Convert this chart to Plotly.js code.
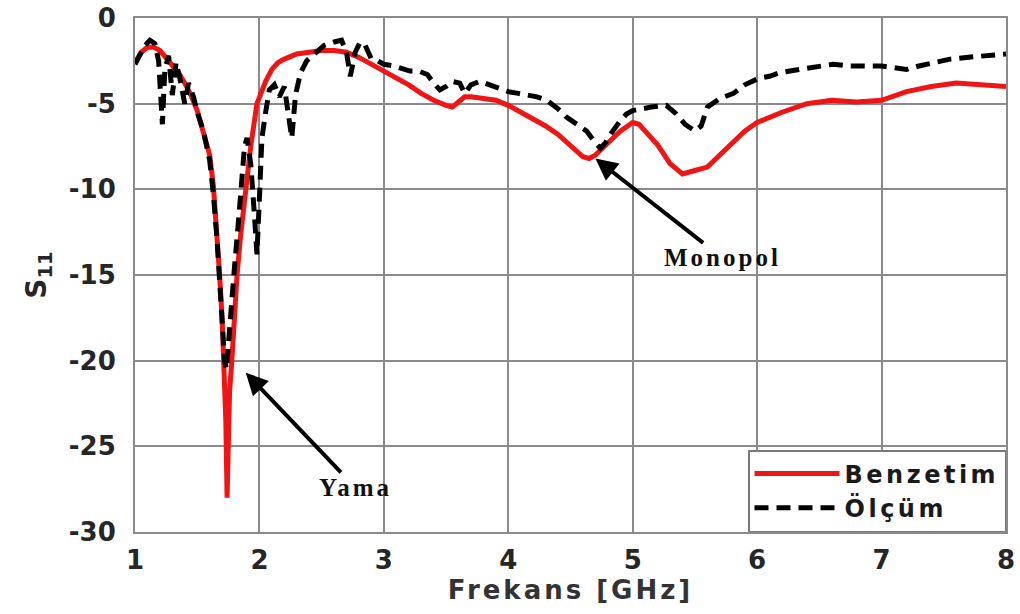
<!DOCTYPE html>
<html>
<head>
<meta charset="utf-8">
<script src="https://cdn.plot.ly/plotly-3.0.1.min.js"></script>
<style>
html,body{margin:0;padding:0;background:#fff;}
.legendtext{letter-spacing:3.5px;}
.xtitle{letter-spacing:3px;}
.annotation-text{letter-spacing:3px;}
</style>
</head>
<body>
<div id="chart" style="width:1020px;height:614px;"></div>
<script>
// ---- Data ----
const simFreq = [1.00,1.05,1.10,1.15,1.20,1.25,1.30,1.35,1.40,1.45,1.50,1.55,1.60,1.63,1.66,1.68,1.70,1.72,1.73,1.74,1.75,1.76,1.78,1.80,1.82,1.85,1.89,1.93,1.98,2.05,2.10,2.15,2.20,2.30,2.40,2.50,2.60,2.70,2.80,2.90,3.00,3.10,3.20,3.30,3.40,3.50,3.55,3.60,3.65,3.70,3.80,3.90,4.00,4.10,4.20,4.30,4.40,4.50,4.60,4.65,4.70,4.80,4.90,5.00,5.05,5.10,5.20,5.30,5.40,5.50,5.60,5.70,5.80,5.90,6.00,6.10,6.20,6.40,6.60,6.80,7.00,7.20,7.40,7.60,7.80,8.00];
const simS11 = [-2.6,-2.0,-1.7,-1.7,-1.9,-2.3,-2.7,-3.2,-3.8,-4.5,-5.4,-6.6,-8.0,-9.8,-12.5,-15.0,-17.5,-20.5,-23.5,-28.0,-24.0,-21.8,-19.8,-17.3,-15.0,-12.6,-10.0,-7.5,-5.0,-3.7,-3.0,-2.6,-2.4,-2.1,-2.0,-1.9,-1.9,-2.0,-2.3,-2.7,-3.1,-3.5,-3.9,-4.4,-4.8,-5.1,-5.2,-4.9,-4.6,-4.6,-4.7,-4.8,-5.1,-5.5,-5.9,-6.3,-6.8,-7.5,-8.1,-8.2,-8.0,-7.3,-6.6,-6.1,-6.2,-6.6,-7.4,-8.5,-9.1,-8.9,-8.7,-8.0,-7.3,-6.6,-6.1,-5.8,-5.5,-5.0,-4.8,-4.9,-4.8,-4.3,-4.0,-3.8,-3.9,-4.0];

const measFreq = [1.00,1.04,1.08,1.12,1.16,1.19,1.22,1.24,1.27,1.30,1.33,1.36,1.40,1.43,1.47,1.50,1.55,1.60,1.63,1.66,1.68,1.70,1.72,1.735,1.75,1.77,1.80,1.83,1.86,1.88,1.90,1.93,1.96,1.98,2.00,2.02,2.05,2.08,2.12,2.16,2.20,2.23,2.26,2.29,2.33,2.38,2.45,2.52,2.60,2.66,2.70,2.73,2.77,2.81,2.85,2.90,2.95,3.00,3.08,3.15,3.21,3.28,3.35,3.40,3.45,3.50,3.55,3.61,3.65,3.70,3.77,3.85,3.93,4.00,4.08,4.15,4.23,4.31,4.40,4.47,4.55,4.63,4.70,4.74,4.78,4.82,4.90,4.95,5.00,5.06,5.15,5.27,5.35,5.42,5.50,5.55,5.60,5.70,5.81,5.90,6.02,6.10,6.18,6.34,6.50,6.61,6.75,6.88,7.00,7.10,7.20,7.30,7.41,7.55,7.68,7.85,8.00];
const measS11 = [-2.7,-2.2,-1.6,-1.3,-1.5,-2.5,-6.2,-3.0,-2.2,-4.5,-2.6,-3.5,-5.0,-3.8,-4.6,-5.5,-6.6,-8.3,-10.3,-13.0,-15.5,-18.0,-20.0,-20.5,-19.0,-17.0,-14.5,-12.0,-9.5,-7.5,-7.0,-8.5,-11.5,-13.8,-10.5,-7.0,-5.5,-4.2,-3.9,-4.6,-4.0,-5.5,-7.0,-4.5,-3.2,-2.5,-2.0,-1.6,-1.4,-1.3,-2.0,-3.4,-2.0,-1.4,-1.6,-2.4,-2.5,-2.7,-2.8,-3.0,-3.1,-3.1,-3.3,-3.8,-4.2,-4.0,-3.7,-3.8,-4.4,-3.9,-3.7,-3.9,-4.1,-4.3,-4.4,-4.5,-4.6,-4.8,-5.3,-5.8,-6.2,-6.6,-7.3,-7.6,-7.3,-6.8,-6.0,-5.6,-5.4,-5.3,-5.2,-5.1,-5.6,-6.2,-6.6,-6.3,-5.2,-4.7,-4.4,-3.9,-3.5,-3.4,-3.2,-3.0,-2.8,-2.7,-2.8,-2.8,-2.8,-2.9,-3.0,-2.8,-2.6,-2.4,-2.3,-2.2,-2.1];

const seriesNames = ["Benzetim", "Ölçüm"];
const xTickVals = [1,2,3,4,5,6,7,8];
const yTickVals = [-30,-25,-20,-15,-10,-5,0];
const xTitle = "Frekans [GHz]";
const yTitle = "S<sub>11</sub>";
const labelYama = "Yama";
const labelMonopol = "Monopol";

// ---- Styling ----
const sans = {family: "DejaVu Sans, Arial, sans-serif", weight: "bold"};
const serif = {family: "Liberation Serif, Times New Roman, serif", weight: "bold"};
const gridCol = "#8a8a8a";

const traces = [
  {x: simFreq, y: simS11, name: seriesNames[0], type: "scatter", mode: "lines",
   line: {color: "#f01414", width: 5}},
  {x: measFreq, y: measS11, name: seriesNames[1], type: "scatter", mode: "lines",
   line: {color: "#000000", width: 5, dash: "14px,8px"}}
];

const layout = {
  width: 1020, height: 614,
  margin: {l: 135, r: 14, t: 18, b: 82},
  paper_bgcolor: "#ffffff", plot_bgcolor: "#ffffff",
  showlegend: true,
  legend: {
    x: 1, xanchor: "right", y: 0, yanchor: "bottom",
    bgcolor: "#ffffff", bordercolor: "#7a7a7a", borderwidth: 1.5,
    font: Object.assign({size: 24, color: "#1a1a1a"}, sans),
    tracegroupgap: 0, itemwidth: 85
  },
  xaxis: {
    range: [1, 8], tickvals: xTickVals, ticktext: xTickVals.map(String),
    showgrid: true, gridcolor: gridCol, gridwidth: 2,
    showline: true, linecolor: gridCol, linewidth: 2, mirror: true,
    zeroline: false, ticks: "", ticklabelstandoff: 4,
    tickfont: Object.assign({size: 26, color: "#262626"}, sans),
    title: {text: xTitle, font: Object.assign({size: 26, color: "#333333"}, sans), standoff: 4},
    automargin: false
  },
  yaxis: {
    range: [-30, 0], tickvals: yTickVals, ticktext: yTickVals.map(String),
    showgrid: true, gridcolor: gridCol, gridwidth: 2,
    showline: true, linecolor: gridCol, linewidth: 2, mirror: true,
    zeroline: false, ticks: "", ticklabelstandoff: 12,
    tickfont: Object.assign({size: 26, color: "#262626"}, sans),
    title: {text: yTitle, font: Object.assign({size: 28, color: "#262626"}, sans), standoff: 14},
    automargin: false
  },
  annotations: [
    {x: 1.89, y: -20.7, ax: 2.77, ay: -27.4, xref: "x", yref: "y", axref: "x", ayref: "y",
     text: labelYama, showarrow: true, arrowhead: 2, arrowsize: 1.1, arrowwidth: 4,
     arrowcolor: "#000", standoff: 0,
     font: Object.assign({size: 25, color: "#111"}, serif)},
    {x: 4.70, y: -8.2, ax: 5.72, ay: -14.0, xref: "x", yref: "y", axref: "x", ayref: "y",
     text: labelMonopol, showarrow: true, arrowhead: 2, arrowsize: 1.1, arrowwidth: 4,
     arrowcolor: "#000", standoff: 0,
     font: Object.assign({size: 25, color: "#111"}, serif)}
  ]
};

Plotly.newPlot("chart", traces, layout, {displayModeBar: false, staticPlot: true});
</script>
</body>
</html>
